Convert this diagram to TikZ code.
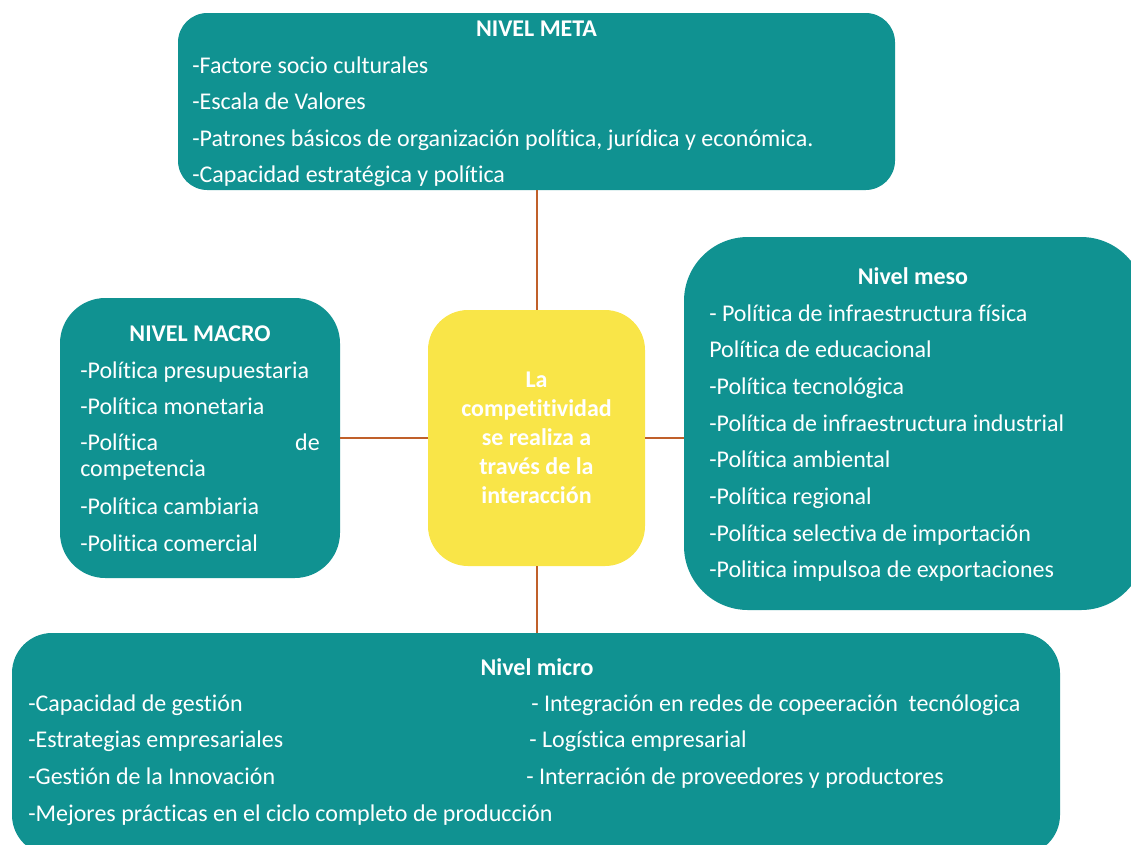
\documentclass[tikz,border=0pt]{standalone}
\usepackage{fontspec}
\setmainfont{Carlito}[Ligatures={NoCommon}]
\definecolor{tealbox}{RGB}{16,146,145}
\definecolor{yellowbox}{RGB}{249,229,72}
\definecolor{linkline}{RGB}{192,96,42}
\tikzset{
  panel/.style={fill=tealbox, draw=none, inner sep=0pt},
  item/.style={anchor=west, text=white, inner sep=0pt, font=\fontsize{18}{21}\selectfont, text height=14pt, text depth=2pt},
  heading/.style={text=white, inner sep=0pt, font=\fontsize{18}{21}\selectfont\bfseries, text height=14pt, text depth=2pt},
  link/.style={draw=linkline, line width=1.5pt},
}
\begin{document}
\begin{tikzpicture}[x=0.75pt,y=-0.75pt]
  \useasboundingbox (0,0) rectangle (1131,844);

  % boxes
  \node[panel, rounded corners=22pt, minimum width=537.75pt, minimum height=132.75pt] (meta) at (536.5,101.5) {};
  \node[panel, rounded corners=34pt, minimum width=210pt, minimum height=210pt] (macro) at (200,438) {};
  \node[panel, rounded corners=48pt, minimum width=345.75pt, minimum height=279.75pt] (meso) at (914.5,423.5) {};
  \node[panel, rounded corners=30pt, minimum width=786pt, minimum height=166.5pt] (micro) at (536,744) {};
  \node[fill=yellowbox, rounded corners=30pt, minimum width=162.75pt, minimum height=192pt, inner sep=0pt,
        text=white, align=center, font=\fontsize{18}{21.75}\selectfont\bfseries] (core) at (536.5,438)
        {La\\competitividad\\se realiza a\\través de la\\interacción};

  % connectors
  \draw[link] (meta.south) -- (core.north);
  \draw[link] (macro.east) -- (core.west);
  \draw[link] (core.east) -- (core.east -| meso.west);
  \draw[link] (core.south) -- (core.south |- micro.north);

  % nivel meta
  \node[heading] (meta-title) at (536.5,28) {NIVEL META};
  \foreach \txt [count=\i] in {-Factore socio culturales, -Escala de Valores,
      {-Patrones básicos de organización política, jurídica y económica.}, -Capacidad estratégica y política}
    \node[item] (meta-\i) at (192,{65+36.5*(\i-1)}) {\txt};

  % nivel macro
  \node[heading] (macro-title) at (200,333) {NIVEL MACRO};
  \foreach \y/\txt [count=\i] in {370/-Política presupuestaria, 406/-Política monetaria, 442/-Política,
      468/competencia, 506/-Política cambiaria, 543/-Politica comercial}
    \node[item] (macro-\i) at (80,\y) {\txt};
  \node[item, anchor=east] (macro-de) at (320,442) {de};

  % nivel meso
  \node[heading] (meso-title) at (913,276) {Nivel meso};
  \foreach \txt [count=\i] in {- Política de infraestructura física, Política de educacional, -Política tecnológica,
      -Política de infraestructura industrial, -Política ambiental, -Política regional,
      -Política selectiva de importación, -Politica impulsoa de exportaciones}
    \node[item] (meso-\i) at (709,{313+36.7*(\i-1)}) {\txt};

  % nivel micro
  \node[heading] (micro-title) at (537,667) {Nivel micro};
  \foreach \txt [count=\i] in {-Capacidad de gestión, -Estrategias empresariales, -Gestión de la Innovación,
      -Mejores prácticas en el ciclo completo de producción}
    \node[item] (micro-l\i) at (28,{703+36.7*(\i-1)}) {\txt};
  \foreach \x/\txt [count=\i] in {531/- Integración en redes de copeeración\ \ tecnólogica, 529/- Logística empresarial,
      526/- Interración de proveedores y productores}
    \node[item] (micro-r\i) at (\x,{703+36.7*(\i-1)}) {\txt};
\end{tikzpicture}
\end{document}
